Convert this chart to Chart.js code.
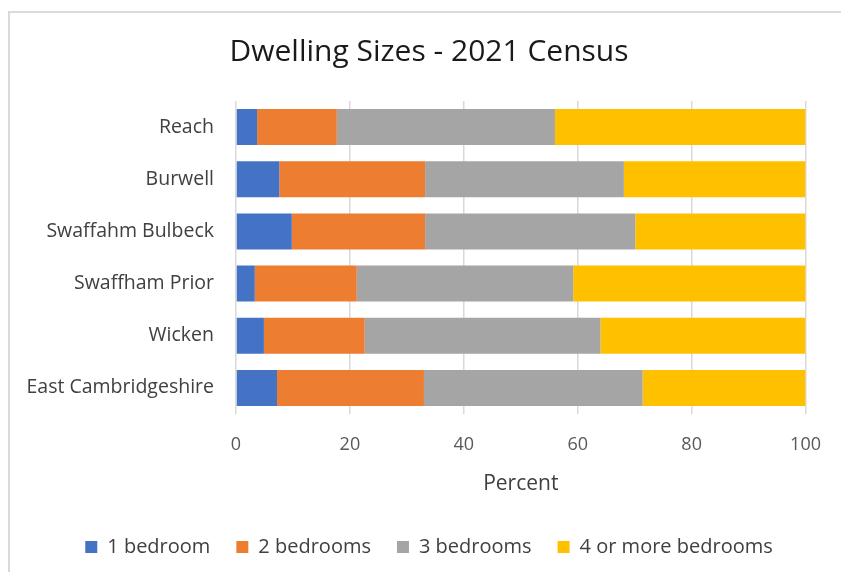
<!DOCTYPE html>
<html>
<head>
<meta charset="utf-8">
<script src="https://cdn.jsdelivr.net/npm/chart.js@4/dist/chart.umd.min.js"></script>
<style>
  html, body { margin: 0; padding: 0; background: #fff; overflow: hidden; }
  #wrap { position: relative; width: 841px; height: 572px; }
  #frame { position: absolute; left: 8px; top: 11px; right: -5px; bottom: -5px; border: 2px solid #d9d9d9; }
  canvas { position: absolute; left: 0; top: 0; }
</style>
</head>
<body>
<div id="wrap">
  <div id="frame"></div>
  <canvas id="dwellings" width="841" height="567"></canvas>
</div>
<script>
var places = ['Reach', 'Burwell', 'Swaffahm Bulbeck', 'Swaffham Prior', 'Wicken', 'East Cambridgeshire'];
var oneBed = [3.7, 7.6, 9.8, 3.3, 4.9, 7.2];
var twoBed = [14.0, 25.6, 23.4, 17.9, 17.7, 25.8];
var threeBed = [38.3, 34.9, 36.9, 38.0, 41.4, 38.4];
var fourPlusBed = [44.0, 31.9, 29.9, 40.8, 36.0, 28.6];
var xTicks = [0, 20, 40, 60, 80, 100];

var font = '"Open Sans", "Noto Sans", sans-serif';

// y labels are wider than the y scale box, so stop them being clipped
var unclipLabels = {
    id: 'unclipLabels',
    afterLayout: function (chart) {
        chart.scales.y.left = 0;
    }
};

var ctx = document.getElementById('dwellings').getContext('2d');
var myChart = new Chart(ctx, {
    type: 'bar',
    data: {
        labels: places,
        datasets: [
            { label: '1 bedroom', data: oneBed, backgroundColor: '#4472C4' },
            { label: '2 bedrooms', data: twoBed, backgroundColor: '#ED7D31' },
            { label: '3 bedrooms', data: threeBed, backgroundColor: '#A5A5A5' },
            { label: '4 or more bedrooms', data: fourPlusBed, backgroundColor: '#FFC000' }
        ]
    },
    options: {
        indexAxis: 'y',
        responsive: false,
        animation: false,
        datasets: {
            bar: { categoryPercentage: 1, barPercentage: 0.69, borderWidth: 0 }
        },
        layout: { padding: { left: 52, right: 35, top: 0, bottom: 0 } },
        scales: {
            x: {
                stacked: true,
                min: 0,
                max: 100,
                afterBuildTicks: function (scale) {
                    scale.ticks = xTicks.map(function (v) { return { value: v }; });
                },
                afterFit: function (scale) { scale.height = 97; },
                grid: { color: '#d9d9d9', lineWidth: 1.5, drawTicks: false },
                border: { display: false },
                ticks: {
                    padding: 20,
                    color: '#595959',
                    font: { family: font, size: 18 }
                },
                title: {
                    display: true,
                    text: 'Percent',
                    color: '#404040',
                    font: { family: font, size: 21 },
                    padding: { top: 0, bottom: 14 }
                }
            },
            y: {
                stacked: true,
                afterFit: function (scale) { scale.width = 184; },
                grid: { display: false, drawTicks: false },
                border: { display: false },
                ticks: {
                    padding: 22,
                    color: '#404040',
                    font: { family: font, size: 19.5 }
                }
            }
        },
        plugins: {
            title: {
                display: true,
                text: 'Dwelling Sizes - 2021 Census',
                color: '#1a1a1a',
                font: { family: font, size: 30, weight: 'normal' },
                padding: { top: 34, bottom: 31 }
            },
            legend: {
                position: 'bottom',
                labels: {
                    boxWidth: 12,
                    boxHeight: 12,
                    padding: 26,
                    color: '#404040',
                    font: { family: font, size: 20 }
                }
            },
            tooltip: { enabled: false }
        }
    },
    plugins: [unclipLabels]
});
</script>
</body>
</html>
